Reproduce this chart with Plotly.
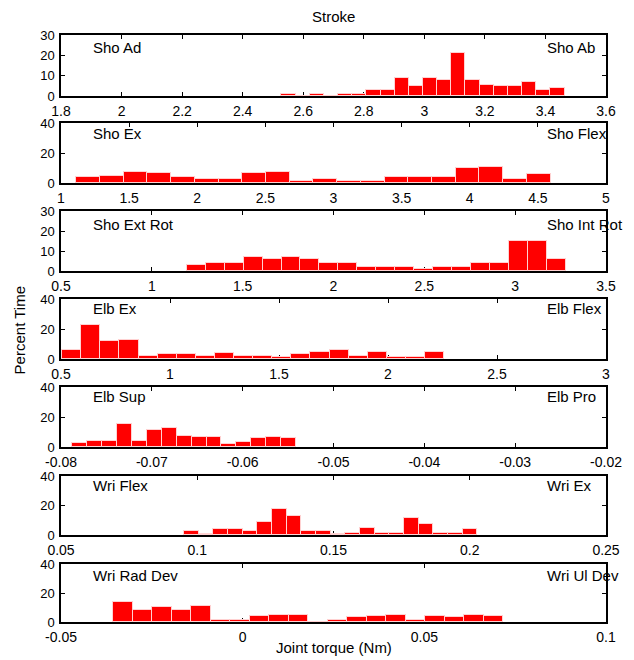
import plotly.graph_objects as go

# ---- data (histogram bin ranges and percent-time counts, 20 or 15 bins each) ----
names_left = ["Sho Ad", "Sho Ex", "Sho Ext Rot", "Elb Ex", "Elb Sup", "Wri Flex", "Wri Rad Dev"]
names_right = ["Sho Ab", "Sho Flex", "Sho Int Rot", "Elb Flex", "Elb Pro", "Wri Ex", "Wri Ul Dev"]

bin_lo = [2.528, 1.112, 1.192, 0.505, -0.0788, 0.0951, -0.0356]
bin_hi = [3.463, 4.593, 3.279, 2.258, -0.0541, 0.2028, 0.0717]

sho_ab = [0.8, 0, 0.8, 0, 0.8, 0.8, 3, 3, 9, 5, 9, 8, 21, 8, 5.5, 5, 5, 7, 3, 4]
sho_flex = [3.7, 4.6, 7.6, 6.9, 3.7, 3.0, 3.0, 6.9, 7.6, 1.6, 3.0, 1.6, 1.6, 3.7, 3.7, 3.7, 9.9, 10.6, 3.0, 6.0]
sho_rot = [3.0, 4.1, 4.1, 6.9, 5.9, 6.9, 5.9, 4.1, 4.1, 2.0, 2.0, 2.0, 0.8, 2.0, 2.0, 4.1, 4.1, 15.2, 15.2, 5.9]
elb_flex = [6.2, 22.6, 12.1, 13.0, 1.8, 3.2, 3.2, 1.8, 3.9, 1.8, 1.8, 1.4, 3.2, 4.6, 6.2, 1.8, 4.6, 1.4, 1.4, 4.6]
elb_pro = [2.9, 3.8, 3.8, 15.1, 3.8, 11.2, 12.6, 7.6, 6.7, 6.7, 1.8, 3.1, 5.8, 6.7, 5.8]
wri_ex = [2.9, 0.9, 3.8, 3.8, 2.9, 9.0, 17.9, 12.7, 2.9, 2.9, 0.9, 1.6, 4.5, 1.6, 1.6, 11.3, 7.7, 1.6, 1.6, 3.8]
wri_dev = [13.9, 8.5, 10.1, 8.0, 10.7, 1.6, 1.6, 3.9, 4.8, 4.8, 0, 1.6, 3.2, 3.9, 4.8, 1.6, 3.9, 3.2, 4.8, 3.9]
counts = [sho_ab, sho_flex, sho_rot, elb_flex, elb_pro, wri_ex, wri_dev]

x_ticks = [
    [1.8, 2.0, 2.2, 2.4, 2.6, 2.8, 3.0, 3.2, 3.4, 3.6],
    [1, 1.5, 2, 2.5, 3, 3.5, 4, 4.5, 5],
    [0.5, 1, 1.5, 2, 2.5, 3, 3.5],
    [0.5, 1, 1.5, 2, 2.5, 3],
    [-0.08, -0.07, -0.06, -0.05, -0.04, -0.03, -0.02],
    [0.05, 0.1, 0.15, 0.2, 0.25],
    [-0.05, 0, 0.05, 0.1],
]
y_ticks = [
    [0, 10, 20, 30],
    [0, 20, 40],
    [0, 10, 20, 30],
    [0, 20, 40],
    [0, 20, 40],
    [0, 20, 40],
    [0, 20, 40],
]

# ---- layout geometry (pixels) ----
W, H = 634, 660
ML, MR, MT, MB = 61, 23, 35, 38
PH = H - MT - MB
PW = W - ML - MR
tops = [35, 123, 211, 299, 387, 476, 564]
bots = [96, 183, 271, 359, 447, 535, 622]
lab_off = [12.5, 10, 13, 9, 9, 9, 11]

FONT = "Liberation Sans, Arial, Helvetica, sans-serif"
fig = go.Figure()
layout = dict(
    width=W, height=H,
    margin=dict(l=ML, r=MR, t=MT, b=MB, pad=0),
    paper_bgcolor="white", plot_bgcolor="white",
    showlegend=False,
    font=dict(family=FONT, size=14, color="black"),
)
annotations = []

for i in range(7):
    n = len(counts[i])
    w = (bin_hi[i] - bin_lo[i]) / n
    centers = [bin_lo[i] + w * (k + 0.5) for k in range(n)]
    xa = "x" if i == 0 else f"x{i+1}"
    ya = "y" if i == 0 else f"y{i+1}"
    fig.add_trace(go.Bar(
        x=centers, y=counts[i], width=w,
        marker=dict(color="#ff0000", line=dict(color="#ffd2d2", width=1)),
        xaxis=xa, yaxis=ya, hoverinfo="skip",
    ))
    d0 = (622 - bots[i]) / PH
    d1 = (622 - tops[i]) / PH
    xt = x_ticks[i]
    yt = y_ticks[i]
    common = dict(
        showline=True, linecolor="black", linewidth=1.5, mirror="ticks",
        ticks="inside", ticklen=4, tickwidth=1, tickcolor="black",
        showgrid=False, zeroline=False, layer="below traces",
        tickfont=dict(family=FONT, size=14, color="black"),
        fixedrange=True,
    )
    layout["xaxis" if i == 0 else f"xaxis{i+1}"] = dict(
        common, anchor=ya, domain=[0, 1], range=[xt[0], xt[-1]],
        tickmode="array", tickvals=xt, ticktext=["%g" % v for v in xt],
        ticklabelstandoff=1,
    )
    layout["yaxis" if i == 0 else f"yaxis{i+1}"] = dict(
        common, anchor=xa, domain=[d0, d1], range=[yt[0], yt[-1]],
        tickmode="array", tickvals=yt, ticktext=["%g" % v for v in yt],
        ticklabelstandoff=2,
    )
    layout["yaxis" if i == 0 else f"yaxis{i+1}"]["tickfont"] = dict(family=FONT, size=13, color="black")
    hgt = bots[i] - tops[i]
    ylab = 1 - lab_off[i] / hgt
    annotations.append(dict(
        text=names_left[i], xref=f"{xa} domain", yref=f"{ya} domain",
        x=(91 - ML) / PW, y=ylab, xanchor="left", yanchor="middle",
        showarrow=False, font=dict(family=FONT, size=15, color="black"),
    ))
    annotations.append(dict(
        text=names_right[i], xref=f"{xa} domain", yref=f"{ya} domain",
        x=(549 - ML) / PW, y=ylab, xanchor="left", yanchor="middle",
        showarrow=False, font=dict(family=FONT, size=15, color="black"),
    ))

annotations.append(dict(
    text="Stroke", xref="paper", yref="paper", x=0.5, y=(622 - 17) / PH,
    xanchor="center", yanchor="middle", showarrow=False,
    font=dict(family=FONT, size=15, color="black"),
))
annotations.append(dict(
    text="Percent Time", xref="paper", yref="paper", x=(19 - ML) / PW, y=(622 - 330) / PH,
    xanchor="center", yanchor="middle", textangle=-90, showarrow=False,
    font=dict(family=FONT, size=15, color="black"),
))
annotations.append(dict(
    text="Joint torque (Nm)", xref="paper", yref="paper", x=0.5, y=(622 - 647) / PH,
    xanchor="center", yanchor="middle", showarrow=False,
    font=dict(family=FONT, size=15, color="black"),
))
layout["annotations"] = annotations
layout["bargap"] = 0
fig.update_layout(**layout)
fig.write_html("out.html")
